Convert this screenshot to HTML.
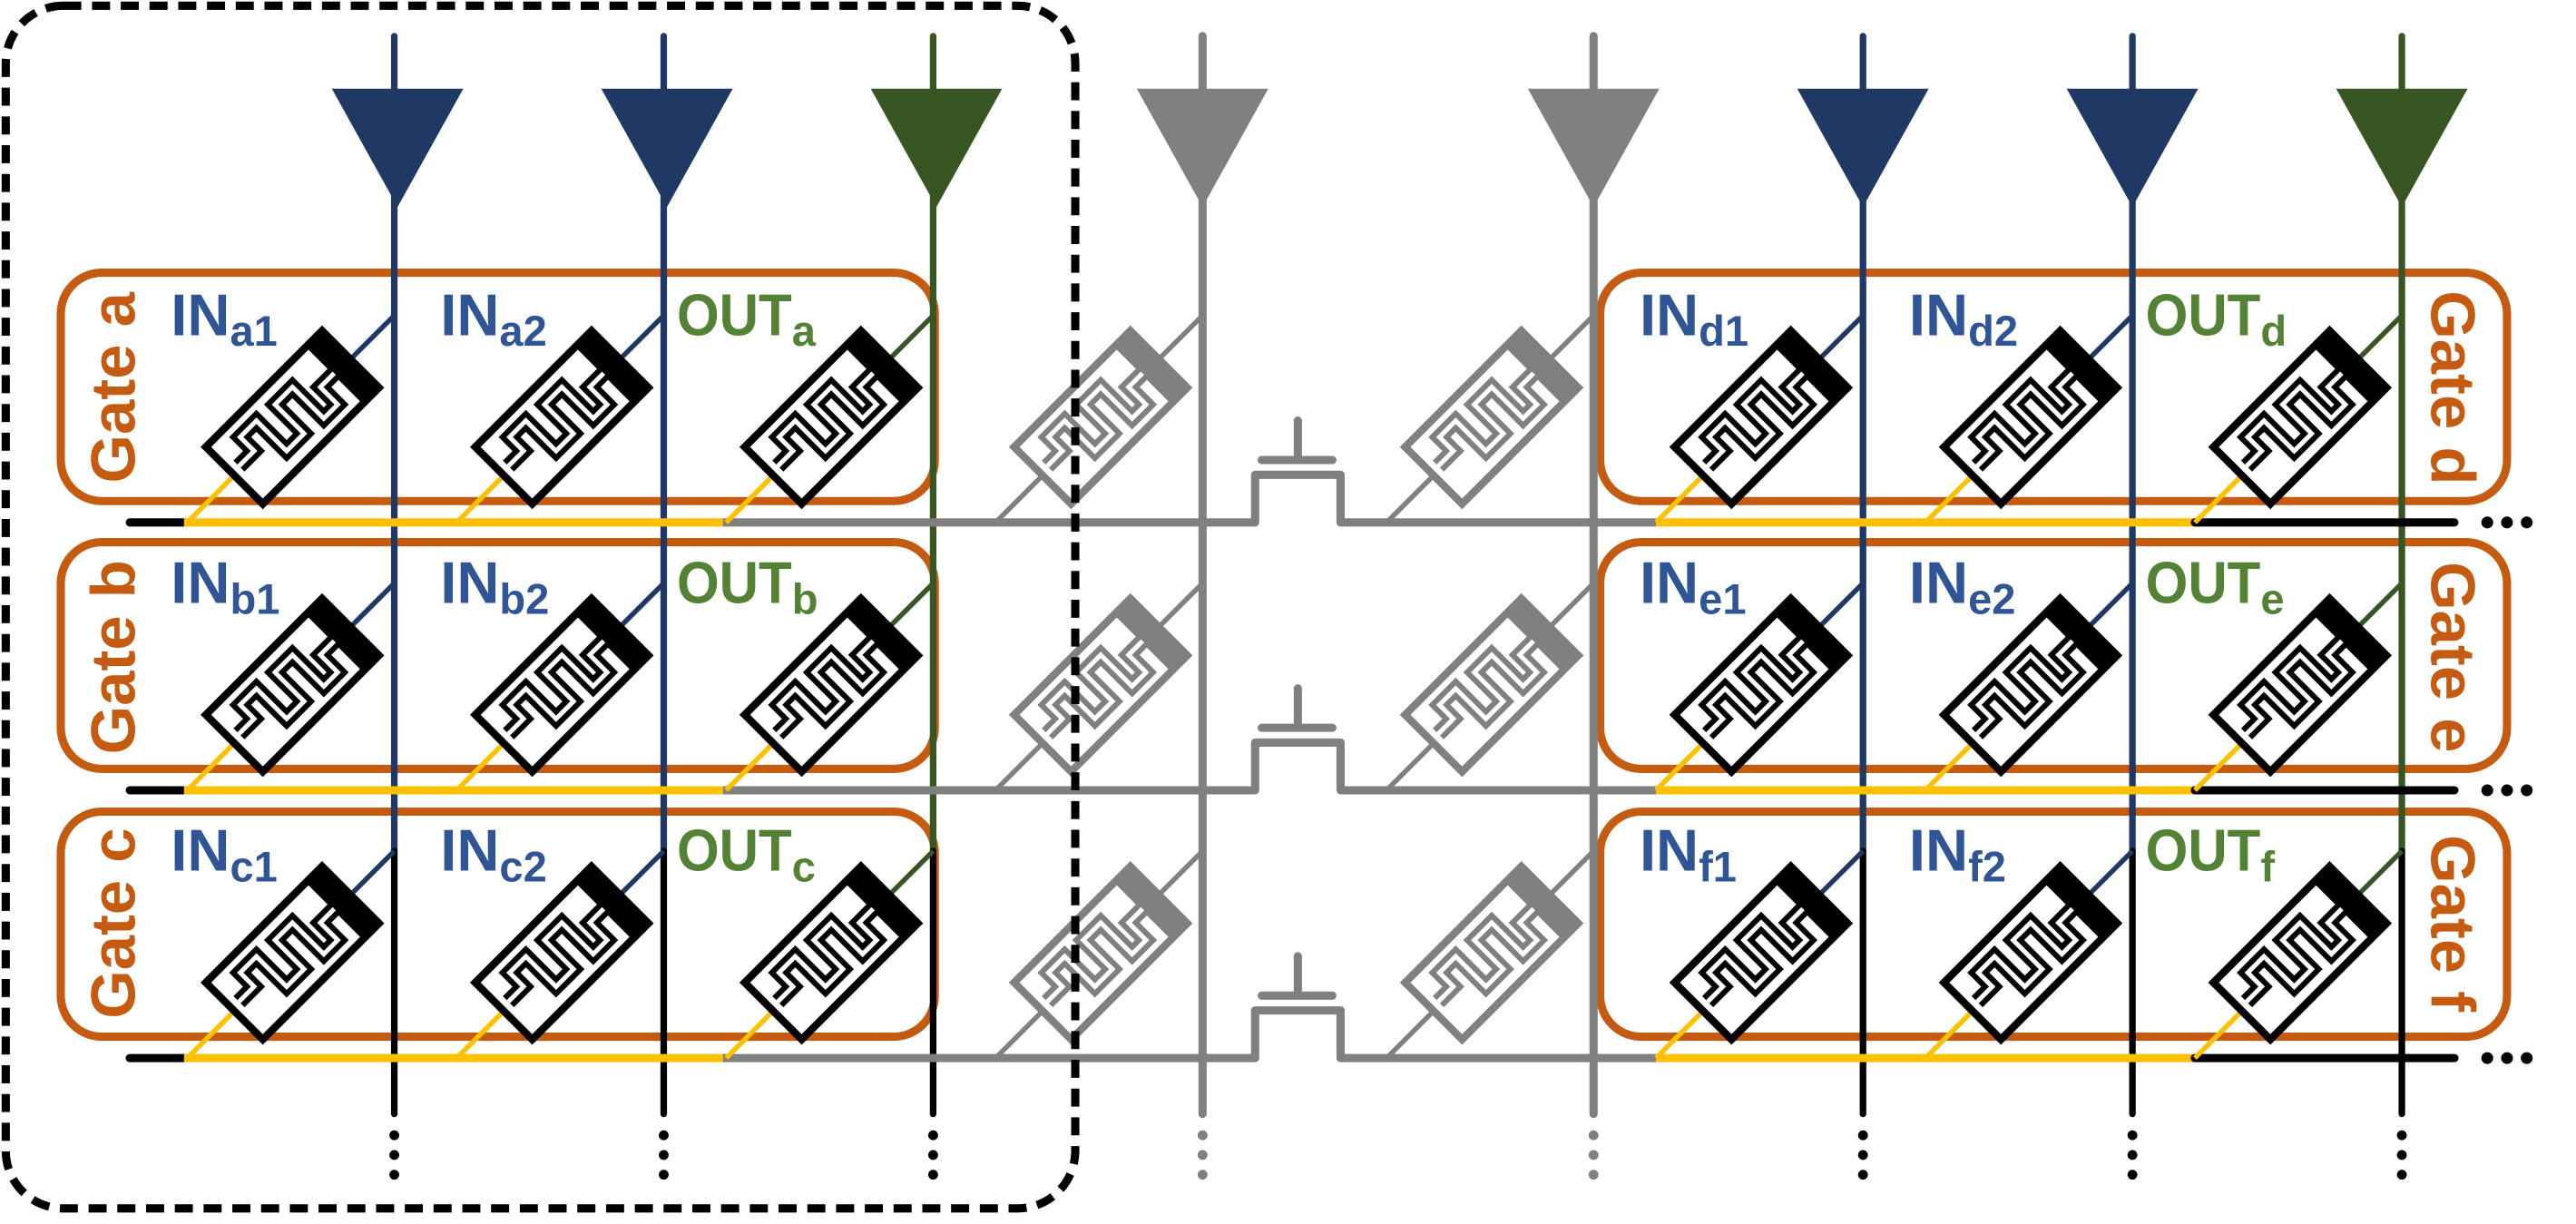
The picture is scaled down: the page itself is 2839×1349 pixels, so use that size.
<!DOCTYPE html>
<html><head><meta charset="utf-8"><style>
html,body{margin:0;padding:0;background:#fff;}
svg{display:block;}
text{font-family:"Liberation Sans",sans-serif;font-weight:bold;}
</style></head><body>
<svg width="2839" height="1349" viewBox="0 0 1568 745" preserveAspectRatio="none" xmlns="http://www.w3.org/2000/svg">
<defs>
<g id="mem">
<rect x="-50" y="-24.5" width="100" height="49" fill="#fff" stroke="currentColor" stroke-width="4.6"/>
<rect x="36" y="-24.5" width="14" height="49" fill="currentColor"/>
<path d="M-44,-2 H-31 V-14 H-17 V12 H-2 V-13 H13 V14 H25 V-1 H37" fill="none" stroke="currentColor" stroke-width="9.5"/>
<path d="M-44,-2 H-31 V-14 H-17 V12 H-2 V-13 H13 V14 H25 V-1 H37" fill="none" stroke="#fff" stroke-width="2.8"/>
</g>
</defs>
<rect width="1568" height="745" fill="#fff"/>

<!-- gate boxes -->
<g fill="none" stroke="#C55A11" stroke-width="5">
<rect x="37" y="166" width="532" height="139" rx="25"/>
<rect x="37" y="330" width="532" height="138" rx="25"/>
<rect x="37" y="494" width="532" height="137" rx="25"/>
<rect x="974" y="166" width="552" height="139" rx="25"/>
<rect x="974" y="330" width="552" height="138" rx="25"/>
<rect x="974" y="494" width="552" height="137" rx="25"/>
</g>

<!-- vertical lines -->
<g stroke-width="4" stroke-linecap="round" fill="none">
<path d="M240,22V518" stroke="#1F3864"/><path d="M240,518V678" stroke="#000"/>
<path d="M404,22V518" stroke="#1F3864"/><path d="M404,518V678" stroke="#000"/>
<path d="M568,22V518" stroke="#375623"/><path d="M568,518V678" stroke="#000"/>
<path d="M1134,22V518" stroke="#1F3864"/><path d="M1134,518V678" stroke="#000"/>
<path d="M1298,22V518" stroke="#1F3864"/><path d="M1298,518V678" stroke="#000"/>
<path d="M1462,22V518" stroke="#375623"/><path d="M1462,518V678" stroke="#000"/>
<path d="M732,22V678" stroke="#808080" stroke-width="5"/>
<path d="M970,22V678" stroke="#808080" stroke-width="5"/>
</g>
<!-- triangles -->
<polygon points="202,54 282,54 242,126" fill="#1F3864"/>
<polygon points="366,54 446,54 406,126" fill="#1F3864"/>
<polygon points="530,54 610,54 570,126" fill="#375623"/>
<polygon points="692,54 772,54 732,126" fill="#808080"/>
<polygon points="930,54 1010,54 970,126" fill="#808080"/>
<polygon points="1094,54 1174,54 1134,126" fill="#1F3864"/>
<polygon points="1258,54 1338,54 1298,126" fill="#1F3864"/>
<polygon points="1422,54 1502,54 1462,126" fill="#375623"/>
<!-- bottom dots -->
<g fill="#000"><circle cx="240" cy="691" r="3"/><circle cx="240" cy="703" r="3"/><circle cx="240" cy="715" r="3"/>
<circle cx="404" cy="691" r="3"/><circle cx="404" cy="703" r="3"/><circle cx="404" cy="715" r="3"/>
<circle cx="568" cy="691" r="3"/><circle cx="568" cy="703" r="3"/><circle cx="568" cy="715" r="3"/>
<circle cx="1134" cy="691" r="3"/><circle cx="1134" cy="703" r="3"/><circle cx="1134" cy="715" r="3"/>
<circle cx="1298" cy="691" r="3"/><circle cx="1298" cy="703" r="3"/><circle cx="1298" cy="715" r="3"/>
<circle cx="1462" cy="691" r="3"/><circle cx="1462" cy="703" r="3"/><circle cx="1462" cy="715" r="3"/></g>
<g fill="#808080"><circle cx="732" cy="691" r="3"/><circle cx="732" cy="703" r="3"/><circle cx="732" cy="715" r="3"/>
<circle cx="970" cy="691" r="3"/><circle cx="970" cy="703" r="3"/><circle cx="970" cy="715" r="3"/></g>

<!-- rows -->
<g fill="none" stroke-width="5" stroke-linecap="round" stroke-linejoin="round">
<path d="M79,318H112" stroke="#000"/>
<path d="M440,318H764V289H816V318H1008" stroke="#808080" stroke-linecap="butt"/>
<path d="M112,318H440" stroke="#FFC000" stroke-linecap="butt"/>
<path d="M1008,318H1336" stroke="#FFC000" stroke-linecap="butt"/>
<path d="M1336,318H1494" stroke="#000"/>
<path d="M768,280H811M790,280V256" stroke="#808080"/>
<path d="M79,481H112" stroke="#000"/>
<path d="M440,481H764V452H816V481H1008" stroke="#808080" stroke-linecap="butt"/>
<path d="M112,481H440" stroke="#FFC000" stroke-linecap="butt"/>
<path d="M1008,481H1336" stroke="#FFC000" stroke-linecap="butt"/>
<path d="M1336,481H1494" stroke="#000"/>
<path d="M768,443H811M790,443V419" stroke="#808080"/>
<path d="M79,644H112" stroke="#000"/>
<path d="M440,644H764V615H816V644H1008" stroke="#808080" stroke-linecap="butt"/>
<path d="M112,644H440" stroke="#FFC000" stroke-linecap="butt"/>
<path d="M1008,644H1336" stroke="#FFC000" stroke-linecap="butt"/>
<path d="M1336,644H1494" stroke="#000"/>
<path d="M768,606H811M790,606V582" stroke="#808080"/>
</g>
<g fill="#000">
<circle cx="1514" cy="318" r="3.6"/><circle cx="1526" cy="318" r="3.6"/><circle cx="1538" cy="318" r="3.6"/>
<circle cx="1514" cy="481" r="3.6"/><circle cx="1526" cy="481" r="3.6"/><circle cx="1538" cy="481" r="3.6"/>
<circle cx="1514" cy="644" r="3.6"/><circle cx="1526" cy="644" r="3.6"/><circle cx="1538" cy="644" r="3.6"/>
</g>

<!-- connectors -->
<g stroke-width="3" fill="none">
<path d="M213.4,218.6L240,192" stroke="#1F3864"/><path d="M142.6,289.4L114,318" stroke="#FFC000"/>
<path d="M377.4,218.6L404,192" stroke="#1F3864"/><path d="M306.6,289.4L278,318" stroke="#FFC000"/>
<path d="M541.4,218.6L568,192" stroke="#375623"/><path d="M470.6,289.4L442,318" stroke="#FFC000"/>
<path d="M705.4,218.6L732,192" stroke="#808080"/><path d="M634.6,289.4L606,318" stroke="#808080"/>
<path d="M943.4,218.6L970,192" stroke="#808080"/><path d="M872.6,289.4L844,318" stroke="#808080"/>
<path d="M1107.4,218.6L1134,192" stroke="#1F3864"/><path d="M1036.6,289.4L1008,318" stroke="#FFC000"/>
<path d="M1271.4,218.6L1298,192" stroke="#1F3864"/><path d="M1200.6,289.4L1172,318" stroke="#FFC000"/>
<path d="M1435.4,218.6L1462,192" stroke="#375623"/><path d="M1364.6,289.4L1336,318" stroke="#FFC000"/>
<path d="M213.4,381.6L240,355" stroke="#1F3864"/><path d="M142.6,452.4L114,481" stroke="#FFC000"/>
<path d="M377.4,381.6L404,355" stroke="#1F3864"/><path d="M306.6,452.4L278,481" stroke="#FFC000"/>
<path d="M541.4,381.6L568,355" stroke="#375623"/><path d="M470.6,452.4L442,481" stroke="#FFC000"/>
<path d="M705.4,381.6L732,355" stroke="#808080"/><path d="M634.6,452.4L606,481" stroke="#808080"/>
<path d="M943.4,381.6L970,355" stroke="#808080"/><path d="M872.6,452.4L844,481" stroke="#808080"/>
<path d="M1107.4,381.6L1134,355" stroke="#1F3864"/><path d="M1036.6,452.4L1008,481" stroke="#FFC000"/>
<path d="M1271.4,381.6L1298,355" stroke="#1F3864"/><path d="M1200.6,452.4L1172,481" stroke="#FFC000"/>
<path d="M1435.4,381.6L1462,355" stroke="#375623"/><path d="M1364.6,452.4L1336,481" stroke="#FFC000"/>
<path d="M213.4,544.6L240,518" stroke="#1F3864"/><path d="M142.6,615.4L114,644" stroke="#FFC000"/>
<path d="M377.4,544.6L404,518" stroke="#1F3864"/><path d="M306.6,615.4L278,644" stroke="#FFC000"/>
<path d="M541.4,544.6L568,518" stroke="#375623"/><path d="M470.6,615.4L442,644" stroke="#FFC000"/>
<path d="M705.4,544.6L732,518" stroke="#808080"/><path d="M634.6,615.4L606,644" stroke="#808080"/>
<path d="M943.4,544.6L970,518" stroke="#808080"/><path d="M872.6,615.4L844,644" stroke="#808080"/>
<path d="M1107.4,544.6L1134,518" stroke="#1F3864"/><path d="M1036.6,615.4L1008,644" stroke="#FFC000"/>
<path d="M1271.4,544.6L1298,518" stroke="#1F3864"/><path d="M1200.6,615.4L1172,644" stroke="#FFC000"/>
<path d="M1435.4,544.6L1462,518" stroke="#375623"/><path d="M1364.6,615.4L1336,644" stroke="#FFC000"/>
</g>
<g color="#000">
<use href="#mem" transform="translate(178,254) rotate(-45)"/>
<use href="#mem" transform="translate(342,254) rotate(-45)"/>
<use href="#mem" transform="translate(506,254) rotate(-45)"/>
<use href="#mem" transform="translate(1072,254) rotate(-45)"/>
<use href="#mem" transform="translate(1236,254) rotate(-45)"/>
<use href="#mem" transform="translate(1400,254) rotate(-45)"/>
<use href="#mem" transform="translate(178,417) rotate(-45)"/>
<use href="#mem" transform="translate(342,417) rotate(-45)"/>
<use href="#mem" transform="translate(506,417) rotate(-45)"/>
<use href="#mem" transform="translate(1072,417) rotate(-45)"/>
<use href="#mem" transform="translate(1236,417) rotate(-45)"/>
<use href="#mem" transform="translate(1400,417) rotate(-45)"/>
<use href="#mem" transform="translate(178,580) rotate(-45)"/>
<use href="#mem" transform="translate(342,580) rotate(-45)"/>
<use href="#mem" transform="translate(506,580) rotate(-45)"/>
<use href="#mem" transform="translate(1072,580) rotate(-45)"/>
<use href="#mem" transform="translate(1236,580) rotate(-45)"/>
<use href="#mem" transform="translate(1400,580) rotate(-45)"/>
</g>
<g color="#808080">
<use href="#mem" transform="translate(670,254) rotate(-45)"/>
<use href="#mem" transform="translate(908,254) rotate(-45)"/>
<use href="#mem" transform="translate(670,417) rotate(-45)"/>
<use href="#mem" transform="translate(908,417) rotate(-45)"/>
<use href="#mem" transform="translate(670,580) rotate(-45)"/>
<use href="#mem" transform="translate(908,580) rotate(-45)"/>
</g>

<!-- labels -->
<g font-size="36">
<g fill="#2F5597">
<text x="104" y="204">IN<tspan font-size="26" dy="6.5">a1</tspan></text>
<text x="268" y="204">IN<tspan font-size="26" dy="6.5">a2</tspan></text>
<text x="104" y="367">IN<tspan font-size="26" dy="6.5">b1</tspan></text>
<text x="268" y="367">IN<tspan font-size="26" dy="6.5">b2</tspan></text>
<text x="104" y="530">IN<tspan font-size="26" dy="6.5">c1</tspan></text>
<text x="268" y="530">IN<tspan font-size="26" dy="6.5">c2</tspan></text>
<text x="998" y="204">IN<tspan font-size="26" dy="6.5">d1</tspan></text>
<text x="1162" y="204">IN<tspan font-size="26" dy="6.5">d2</tspan></text>
<text x="998" y="367">IN<tspan font-size="26" dy="6.5">e1</tspan></text>
<text x="1162" y="367">IN<tspan font-size="26" dy="6.5">e2</tspan></text>
<text x="998" y="530">IN<tspan font-size="26" dy="6.5">f1</tspan></text>
<text x="1162" y="530">IN<tspan font-size="26" dy="6.5">f2</tspan></text>
</g>
<g fill="#548235">
<text x="412" y="204"><tspan textLength="70" lengthAdjust="spacingAndGlyphs">OUT</tspan><tspan font-size="26" dy="6.5">a</tspan></text>
<text x="412" y="367"><tspan textLength="70" lengthAdjust="spacingAndGlyphs">OUT</tspan><tspan font-size="26" dy="6.5">b</tspan></text>
<text x="412" y="530"><tspan textLength="70" lengthAdjust="spacingAndGlyphs">OUT</tspan><tspan font-size="26" dy="6.5">c</tspan></text>
<text x="1306" y="204"><tspan textLength="70" lengthAdjust="spacingAndGlyphs">OUT</tspan><tspan font-size="26" dy="6.5">d</tspan></text>
<text x="1306" y="367"><tspan textLength="70" lengthAdjust="spacingAndGlyphs">OUT</tspan><tspan font-size="26" dy="6.5">e</tspan></text>
<text x="1306" y="530"><tspan textLength="70" lengthAdjust="spacingAndGlyphs">OUT</tspan><tspan font-size="26" dy="6.5">f</tspan></text>
</g>
</g>
<g font-size="38" fill="#C55A11" text-anchor="middle">
<text transform="translate(82,236) rotate(-90)">Gate a</text>
<text transform="translate(82,400) rotate(-90)">Gate b</text>
<text transform="translate(82,562) rotate(-90)">Gate c</text>
<text transform="translate(1480,236) rotate(90)">Gate d</text>
<text transform="translate(1480,400) rotate(90)">Gate e</text>
<text transform="translate(1480,562) rotate(90)">Gate f</text>
</g>

<!-- dashed box on top -->
<rect x="3.5" y="3.5" width="651" height="732" rx="35" fill="none" stroke="#000" stroke-width="5" stroke-dasharray="11 6.5"/>
</svg>
</body></html>
